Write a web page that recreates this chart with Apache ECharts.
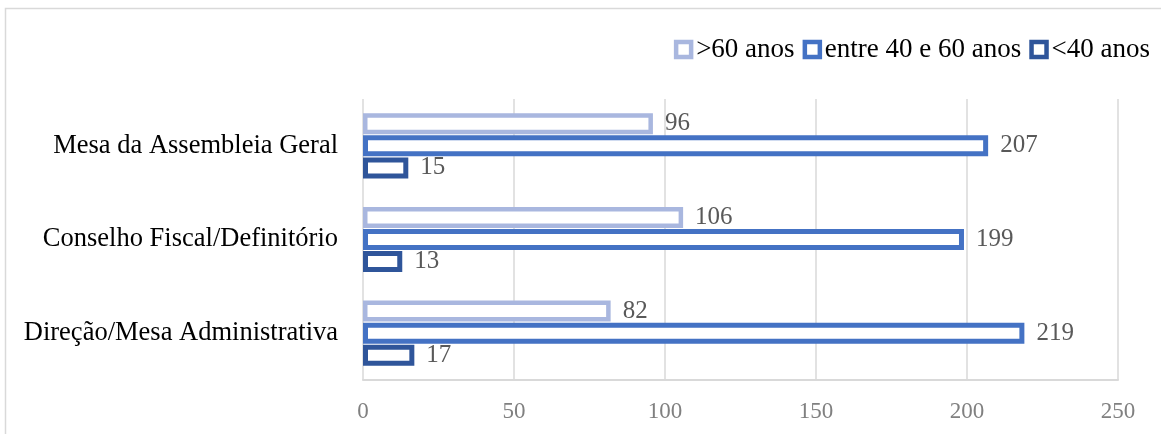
<!DOCTYPE html>
<html>
<head>
<meta charset="utf-8">
<script src="https://cdn.jsdelivr.net/npm/echarts@6/dist/echarts.min.js"></script>
<style>
html,body{margin:0;padding:0;background:#fff;}
#c{width:1161px;height:434px;}
</style>
</head>
<body>
<div id="c"></div>
<script>
const categories = ['Direção/Mesa Administrativa', 'Conselho Fiscal/Definitório', 'Mesa da Assembleia Geral'];
const seriesNames = ['>60 anos', 'entre 40 e 60 anos', '<40 anos'];
const over60 = [82, 106, 96];
const between40and60 = [219, 199, 207];
const under40 = [17, 13, 15];
const xTicks = { min: 0, max: 250, interval: 50 };

const font = 'Liberation Serif, Times New Roman, serif';
const colors = { over: '#a9b7df', mid: '#4472c4', under: '#2f559a' };

function mk(name, data, color, bw) {
  return {
    name: name, type: 'bar', data: data,
    barWidth: 21, barGap: '5%',
    itemStyle: { color: '#ffffff', borderColor: color, borderWidth: bw },
    label: { show: true, position: 'right', distance: 12, color: '#595959', fontFamily: font, fontSize: 25 },
    emphasis: { disabled: true }
  };
}

const chart = echarts.init(document.getElementById('c'));
chart.setOption({
  animation: false,
  backgroundColor: '#fff',
  textStyle: { fontFamily: font },
  graphic: [{ type: 'rect', shape: { x: 5.5, y: 8.5, width: 1200, height: 500 }, style: { fill: 'none', stroke: '#d9d9d9', lineWidth: 1.5 }, silent: true }],
  legend: {
    data: seriesNames,
    right: 6, top: 31,
    itemWidth: 15, itemHeight: 15, itemGap: 8,
    icon: 'rect',
    itemStyle: { borderWidth: 4.5 },
    textStyle: { fontFamily: font, fontSize: 27, color: '#000', padding: [0, 0, 0, 0] }
  },
  grid: { left: 363, right: 43, top: 99, bottom: 54 },
  xAxis: {
    type: 'value', min: xTicks.min, max: xTicks.max, interval: xTicks.interval,
    axisLine: { show: true, lineStyle: { color: '#d9d9d9', width: 2 } }, axisTick: { show: false },
    splitLine: { lineStyle: { color: '#d9d9d9', width: 1.5 } },
    axisLabel: { color: '#808080', fontFamily: font, fontSize: 23, margin: 20 }
  },
  yAxis: {
    type: 'category', data: categories,
    axisLine: { show: false }, axisTick: { show: false },
    axisLabel: { color: '#000', fontFamily: font, fontSize: 26.5, margin: 25 }
  },
  series: [
    mk(seriesNames[0], over60, colors.over, 4.5),
    mk(seriesNames[1], between40and60, colors.mid, 5),
    mk(seriesNames[2], under40, colors.under, 5)
  ]
});
</script>
</body>
</html>
